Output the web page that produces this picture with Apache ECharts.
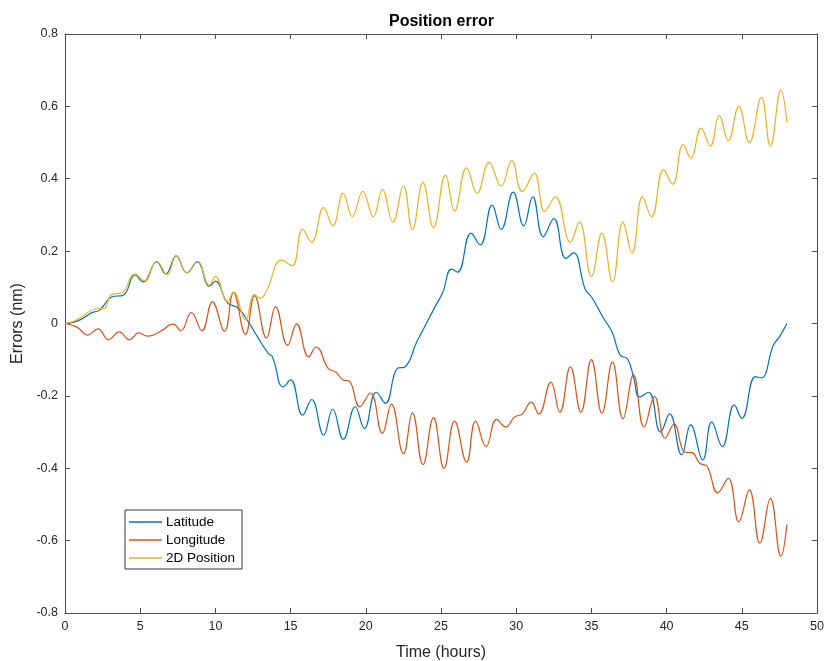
<!DOCTYPE html>
<html>
<head>
<meta charset="utf-8">
<script src="https://cdn.jsdelivr.net/npm/echarts@6/dist/echarts.min.js"></script>
<style>
  html, body { margin: 0; padding: 0; background: #ffffff; }
  #chart { width: 824px; height: 661px; }
</style>
</head>
<body>
<div id="chart"></div>
<script>
// ---- Data (hours, nm) ----
const latT = [0,0.5,1,1.8,2.3,3.1,3.9,4.65,5.2,6.1,6.7,7.4,8.1,8.8,9.6,10.0,10.8,11.5,12.2,12.8,13.5,13.8,14.5,15.0,15.8,16.4,17.2,17.8,18.5,19.3,19.9,20.7,21.3,22.1,22.6,23.4,23.8,24.6,25.1,25.7,26.1,27.0,27.6,28.4,29.0,29.8,30.5,31.1,31.8,32.5,33.3,33.8,34.6,35.0,35.8,36.4,36.9,37.4,37.8,38.2,38.8,39.6,40.2,41.0,41.6,42.4,43.0,43.7,44.5,45.0,45.9,46.3,47.1,47.5,48];
const latV = [0,0.003,0.01,0.03,0.037,0.073,0.079,0.134,0.115,0.17,0.137,0.187,0.14,0.17,0.103,0.117,0.057,0.043,0.004,-0.037,-0.082,-0.093,-0.175,-0.156,-0.253,-0.21,-0.308,-0.237,-0.32,-0.23,-0.29,-0.19,-0.22,-0.124,-0.12,-0.05,-0.018,0.046,0.084,0.15,0.142,0.25,0.217,0.327,0.26,0.363,0.27,0.35,0.24,0.29,0.18,0.195,0.093,0.074,0.015,-0.026,-0.087,-0.098,-0.147,-0.203,-0.19,-0.3,-0.25,-0.363,-0.28,-0.377,-0.272,-0.34,-0.225,-0.262,-0.147,-0.15,-0.06,-0.037,0];

const lonT = [0,0.8,1.5,2.2,2.9,3.6,4.3,4.9,5.5,6.3,7.2,7.7,8.4,9.1,9.8,10.6,11.2,12.0,12.6,13.4,14.0,14.8,15.4,16.2,16.7,17.5,18.0,18.5,18.9,19.6,20.3,21.1,21.7,22.5,23.1,23.8,24.5,25.2,25.9,26.7,27.3,28.0,28.7,29.3,29.9,30.4,31.0,31.5,32.3,32.9,33.6,34.3,35.0,35.7,36.4,37.1,37.8,38.5,39.2,39.9,40.5,41.2,41.7,42.2,42.7,43.4,44.1,44.8,45.5,46.2,46.9,47.6,48];
const lonV = [0,-0.01,-0.032,-0.015,-0.045,-0.023,-0.045,-0.026,-0.035,-0.023,-0.002,-0.02,0.03,-0.02,0.06,-0.022,0.085,-0.03,0.077,-0.04,0.046,-0.06,-0.001,-0.092,-0.065,-0.124,-0.134,-0.156,-0.159,-0.23,-0.192,-0.303,-0.223,-0.36,-0.247,-0.39,-0.26,-0.4,-0.27,-0.383,-0.27,-0.34,-0.265,-0.286,-0.258,-0.25,-0.217,-0.25,-0.162,-0.245,-0.12,-0.245,-0.1,-0.248,-0.107,-0.263,-0.142,-0.286,-0.202,-0.317,-0.278,-0.355,-0.357,-0.386,-0.395,-0.468,-0.428,-0.548,-0.46,-0.607,-0.483,-0.643,-0.555];

const posT = [0,0.5,1.0,1.5,2.0,2.6,3.1,3.8,4.65,5.3,6.1,6.8,7.4,8.1,8.8,9.6,10.0,10.8,11.2,12.0,12.6,13.0,13.4,14.4,15.1,15.8,16.4,17.2,17.8,18.5,19.1,19.8,20.5,21.1,21.8,22.5,23.1,23.8,24.5,25.3,25.9,26.7,27.4,28.2,29.0,29.7,30.4,31.2,31.9,32.6,33.6,34.2,35.0,35.7,36.4,37.1,37.7,38.4,39.0,39.8,40.4,41.1,41.6,42.3,42.9,43.5,44.1,44.8,45.5,46.3,46.9,47.6,48];
const posV = [0,0.005,0.015,0.03,0.04,0.042,0.08,0.085,0.137,0.118,0.172,0.135,0.187,0.14,0.172,0.106,0.13,0.06,0.087,0.01,0.08,0.07,0.09,0.175,0.16,0.26,0.225,0.32,0.27,0.36,0.295,0.365,0.295,0.37,0.28,0.38,0.26,0.39,0.265,0.41,0.31,0.43,0.36,0.445,0.38,0.45,0.365,0.415,0.31,0.35,0.225,0.28,0.13,0.25,0.115,0.28,0.195,0.35,0.295,0.425,0.385,0.495,0.457,0.54,0.49,0.575,0.505,0.6,0.5,0.625,0.49,0.645,0.555];

const seriesNames = ['Latitude', 'Longitude', '2D Position'];
const xTicks = { min: 0, max: 50, step: 5 };
const yTicks = { min: -0.8, max: 0.8, step: 0.2 };

// ---- Chart ----
const zip = (t, v) => t.map((x, i) => [x, v[i]]);
const colors = ['#0072BD', '#D95319', '#EDB120'];
const axisColor = '#262626';
const font = '"Liberation Sans", Arial, Helvetica, sans-serif';

const chart = echarts.init(document.getElementById('chart'), null, { renderer: 'canvas' });

const baseAxisLine = { show: true, onZero: false, lineStyle: { color: '#4d4d4d', width: 1 } };
const baseTick = { show: true, inside: true, length: 5, lineStyle: { color: '#4d4d4d', width: 1 } };

const option = {
  animation: false,
  backgroundColor: '#ffffff',
  title: {
    text: 'Position error',
    left: 384, top: 9,
    textStyle: { fontFamily: font, fontSize: 16, fontWeight: 'bold', color: '#000' }
  },
  grid: { left: 65, right: 7, top: 34, bottom: 48, containLabel: false, outerBoundsMode: 'none' },
  legend: {
    orient: 'vertical',
    left: 125, top: 510,
    data: seriesNames,
    icon: 'rect',
    itemWidth: 33, itemHeight: 1.3,
    itemGap: 4,
    padding: [5, 7, 4, 4],
    backgroundColor: '#ffffff',
    borderColor: '#333333', borderWidth: 1,
    textStyle: { fontFamily: font, fontSize: 13.5, color: '#000', padding: [0, 0, 0, -1] }
  },
  xAxis: [{
    type: 'value', position: 'bottom',
    min: xTicks.min, max: xTicks.max, interval: xTicks.step,
    name: 'Time (hours)', nameLocation: 'middle', nameGap: 32,
    nameTextStyle: { fontFamily: font, fontSize: 16, color: axisColor },
    axisLine: baseAxisLine, axisTick: baseTick,
    axisLabel: { fontFamily: font, fontSize: 12.5, color: axisColor, margin: 7 },
    splitLine: { show: false }
  }, {
    type: 'value', position: 'top',
    min: xTicks.min, max: xTicks.max, interval: xTicks.step,
    axisLine: baseAxisLine, axisTick: baseTick,
    axisLabel: { show: false }, splitLine: { show: false }
  }],
  yAxis: [{
    type: 'value', position: 'left',
    min: yTicks.min, max: yTicks.max, interval: yTicks.step,
    name: 'Errors (nm)', nameLocation: 'middle', nameGap: 32,
    nameTextStyle: { fontFamily: font, fontSize: 16, color: axisColor },
    axisLine: baseAxisLine, axisTick: baseTick,
    axisLabel: { fontFamily: font, fontSize: 12.5, color: axisColor, margin: 7,
      formatter: v => String(+v.toFixed(1)) },
    splitLine: { show: false }
  }, {
    type: 'value', position: 'right',
    min: yTicks.min, max: yTicks.max, interval: yTicks.step,
    axisLine: baseAxisLine, axisTick: baseTick,
    axisLabel: { show: false }, splitLine: { show: false }
  }],
  series: [
    { name: seriesNames[0], data: zip(latT, latV) },
    { name: seriesNames[1], data: zip(lonT, lonV) },
    { name: seriesNames[2], data: zip(posT, posV) }
  ].map((s, i) => Object.assign({
    type: 'line', xAxisIndex: 0, yAxisIndex: 0,
    showSymbol: false, symbol: 'none', smooth: 0.45,
    color: colors[i],
    lineStyle: { color: colors[i], width: 1.2 },
    emphasis: { disabled: true }
  }, s))
};
chart.setOption(option);
</script>
</body>
</html>
